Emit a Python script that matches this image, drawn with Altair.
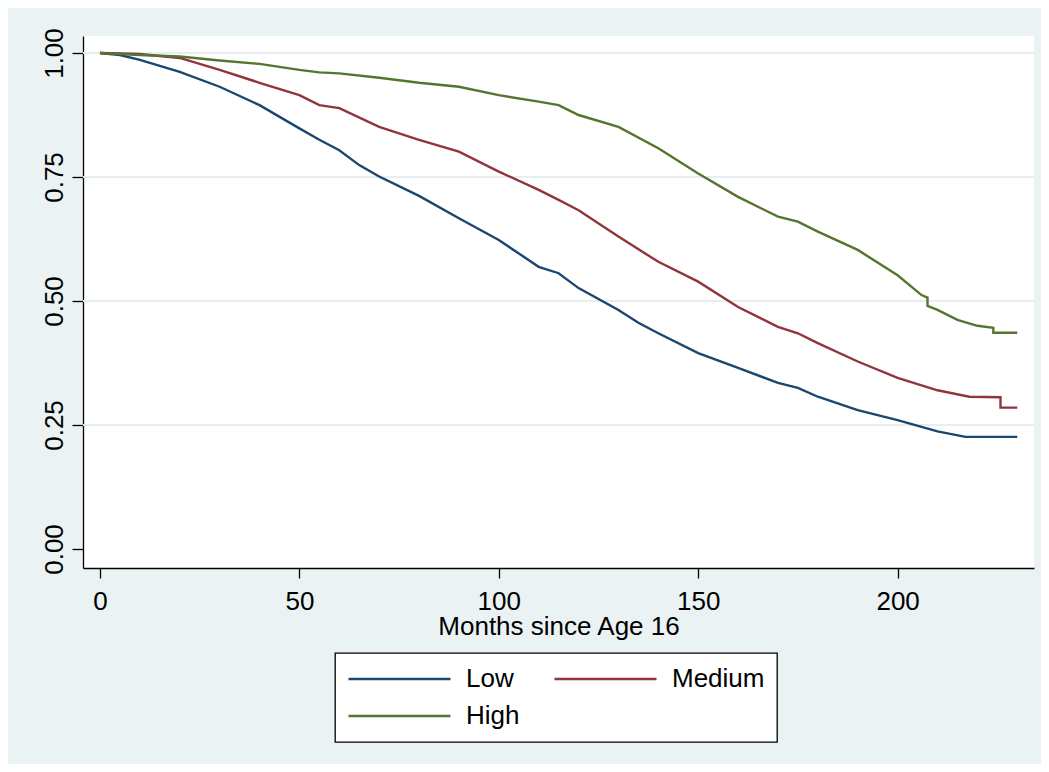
import altair as alt
import pandas as pd

# ---- data (Kaplan-Meier style survival curves) ----
groups = ["Low", "Medium", "High"]
colors = ["#1A476F", "#90353B", "#55752F"]

low_t = [0, 5, 10, 20, 30, 40, 50, 55, 60, 65, 70, 80, 90, 100, 110, 115, 120,
         130, 135, 140, 150, 160, 170, 175, 180, 190, 200, 210, 217, 230]
low_s = [1.0, 0.996, 0.986, 0.962, 0.932, 0.895, 0.848, 0.825, 0.804, 0.774,
         0.751, 0.712, 0.667, 0.623, 0.569, 0.556, 0.526, 0.482, 0.456, 0.435,
         0.395, 0.365, 0.335, 0.325, 0.307, 0.280, 0.260, 0.237, 0.226, 0.226]

med_t = [0, 10, 20, 30, 40, 50, 55, 60, 70, 80, 90, 100, 110, 115, 120, 130,
         140, 150, 160, 170, 175, 180, 190, 200, 210, 218, 225.8, 225.8, 230]
med_s = [1.0, 0.998, 0.990, 0.966, 0.940, 0.915, 0.895, 0.889, 0.851, 0.825,
         0.801, 0.761, 0.724, 0.704, 0.683, 0.630, 0.579, 0.539, 0.488, 0.448,
         0.435, 0.415, 0.378, 0.345, 0.320, 0.307, 0.306, 0.285, 0.285]

high_t = [0, 10, 20, 30, 40, 50, 55, 60, 70, 80, 90, 100, 110, 115, 120, 130,
          140, 150, 160, 170, 175, 180, 190, 200, 206, 207.5, 207.5, 210, 215,
          220, 224, 224, 230]
high_s = [1.0, 0.996, 0.993, 0.985, 0.978, 0.966, 0.961, 0.959, 0.950, 0.940,
          0.932, 0.915, 0.902, 0.895, 0.875, 0.851, 0.808, 0.757, 0.710, 0.670,
          0.660, 0.640, 0.603, 0.552, 0.512, 0.507, 0.490, 0.482, 0.462, 0.450,
          0.446, 0.436, 0.436]

x_ticks = [0, 50, 100, 150, 200]
y_ticks = [0.0, 0.25, 0.5, 0.75, 1.0]
grid_vals = [0.25, 0.5, 0.75, 1.0]

rows = []
i = 0
for name, ts, ss in [("Low", low_t, low_s), ("Medium", med_t, med_s), ("High", high_t, high_s)]:
    for t, s in zip(ts, ss):
        rows.append({"t": t, "s": s, "group": name, "i": i})
        i += 1
df = pd.DataFrame(rows)

FONT = "Liberation Sans"
FS = 26

xscale = alt.Scale(domain=[-4.26, 234.2], nice=False, zero=False)
yscale = alt.Scale(domain=[-0.0383, 1.0343], nice=False, zero=False)

yaxis = alt.Axis(values=y_ticks, format=".2f", title="", grid=False,
                 labelAngle=270, labelAlign="center", labelBaseline="alphabetic",
                 labelPadding=10, tickSize=11, tickColor="black", tickWidth=1.3,
                 domainColor="black", domainWidth=1.3, labelFontSize=FS,
                 labelColor="black", labelFont=FONT, labelFlush=False,
                 labelOverlap=False)
xaxis = alt.Axis(values=x_ticks, title="Months since Age 16", grid=False,
                 tickSize=10, tickColor="black", tickWidth=1.3,
                 domainColor="black", domainWidth=1.3, labelFontSize=FS,
                 labelColor="black", labelFont=FONT, labelPadding=10,
                 labelFlush=False, labelOverlap=False,
                 titleFontSize=FS, titleFontWeight="normal", titleColor="black",
                 titleFont=FONT, titleBaseline="alphabetic", titleY=66)

grid = alt.Chart(pd.DataFrame({"s": grid_vals})).mark_rule(
    color="#E6EEF1", strokeWidth=2
).encode(y=alt.Y("s:Q", scale=yscale, axis=yaxis))

lines = alt.Chart(df).mark_line(strokeWidth=2.4).encode(
    x=alt.X("t:Q", scale=xscale, axis=xaxis),
    y=alt.Y("s:Q", scale=yscale, axis=yaxis),
    color=alt.Color("group:N",
                    scale=alt.Scale(domain=groups, range=colors),
                    legend=alt.Legend(title=None, orient="none", legendX=252,
                                      legendY=617, columns=2,
                                      direction="horizontal",
                                      symbolType="stroke", symbolSize=10404,
                                      symbolStrokeWidth=2.5, clipHeight=28,
                                      labelFontSize=FS, labelFont=FONT,
                                      labelColor="black", labelOffset=14,
                                      columnPadding=33, rowPadding=9,
                                      padding=12, strokeColor="black",
                                      fillColor="white")),
    order=alt.Order("i:Q"),
)

chart = alt.layer(grid, lines).properties(
    width=951, height=532,
    padding={"left": 75, "top": 28, "right": 7, "bottom": 196},
    autosize=alt.AutoSizeParams(type="none"),
    background="#EAF2F3",
).configure_view(strokeWidth=0, fill="white").configure_legend(strokeWidth=1.3)

chart.save("out.html", embed_options={"renderer": "svg", "actions": False})
